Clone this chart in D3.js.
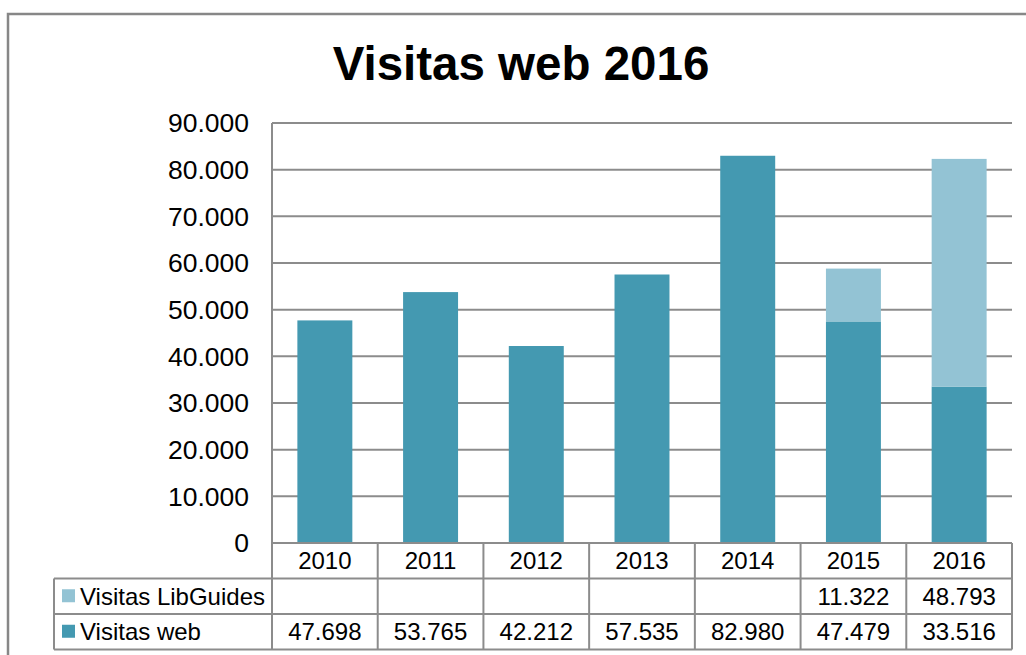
<!DOCTYPE html>
<html>
<head>
<meta charset="utf-8">
<script src="https://cdn.jsdelivr.net/npm/d3@7"></script>
<style>
  body { margin: 0; background: #fff; }
  text { font-family: 'Liberation Sans', Arial, sans-serif; fill: #000; }
</style>
</head>
<body>
<div id="chart"></div>
<script>
// datos del gráfico
var years = ['2010', '2011', '2012', '2013', '2014', '2015', '2016']
var visitasWeb = [47698, 53765, 42212, 57535, 82980, 47479, 33516]
var visitasLibGuides = [null, null, null, null, null, 11322, 48793]
var seriesNames = ['Visitas LibGuides', 'Visitas web']
var yTicks = [0, 10000, 20000, 30000, 40000, 50000, 60000, 70000, 80000, 90000]

var width = 1026
var height = 655
var colorWeb = '#4499b1'
var colorLib = '#93c3d4'
var gridColor = '#8c8c8c'

var plot = { left: 272, right: 1012, top: 123, bottom: 543 }
var rowH = 35.5
var tableLeft = 54

var svg = d3.select('#chart').append('svg')
  .attr('width', width)
  .attr('height', height)

// marco exterior
svg.append('rect')
  .attr('x', 8).attr('y', 14)
  .attr('width', 1040).attr('height', 660)
  .attr('fill', 'none')
  .attr('stroke', '#878787')
  .attr('stroke-width', 2.5)

// título
svg.append('text')
  .attr('x', 521).attr('y', 80)
  .attr('text-anchor', 'middle')
  .style('font-size', '47.5px')
  .style('font-weight', 'bold')
  .text('Visitas web 2016')

var x = d3.scaleBand()
  .domain(years)
  .range([plot.left, plot.right])
  .paddingInner(0.48)
  .paddingOuter(0.24)

var y = d3.scaleLinear()
  .domain([0, 90000])
  .range([plot.bottom, plot.top])

var fmt = function (v) {
  return v === 0 ? '0' : d3.format(',')(v).replace(/,/g, '.')
}

// líneas de la cuadrícula
svg.append('g').selectAll('line')
  .data(yTicks.slice(1))
  .enter().append('line')
  .attr('x1', plot.left).attr('x2', plot.right)
  .attr('y1', function (d) { return y(d) })
  .attr('y2', function (d) { return y(d) })
  .attr('stroke', gridColor)
  .attr('stroke-width', 2)

// etiquetas del eje y
svg.append('g').selectAll('text')
  .data(yTicks)
  .enter().append('text')
  .attr('x', 249)
  .attr('y', function (d) { return y(d) })
  .attr('dy', '0.35em')
  .attr('text-anchor', 'end')
  .style('font-size', '26.5px')
  .text(fmt)

// barras apiladas
var stackData = years.map(function (yr, i) {
  return { year: yr, web: visitasWeb[i], lib: visitasLibGuides[i] || 0 }
})
var stack = d3.stack().keys(['web', 'lib'])(stackData)
var colors = { web: colorWeb, lib: colorLib }

svg.append('g').selectAll('g')
  .data(stack)
  .enter().append('g')
  .attr('fill', function (s) { return colors[s.key] })
  .selectAll('rect')
  .data(function (s) { return s })
  .enter().append('rect')
  .attr('x', function (d) { return x(d.data.year) })
  .attr('width', x.bandwidth())
  .attr('y', function (d) { return y(d[1]) })
  .attr('height', function (d) { return y(d[0]) - y(d[1]) })

// tabla de datos
var table = svg.append('g')
var step = x.step()
var cellLeft = function (yr) { return x(yr) - (step - x.bandwidth()) / 2 }
var rows = [
  { name: seriesNames[0], values: visitasLibGuides, color: colorLib },
  { name: seriesNames[1], values: visitasWeb, color: colorWeb }
]
var tTop = plot.bottom
var tBottom = tTop + rowH * 3

// eje vertical y bordes
table.append('line')
  .attr('x1', plot.left).attr('x2', plot.left)
  .attr('y1', plot.top).attr('y2', tBottom)
  .attr('stroke', gridColor).attr('stroke-width', 2)
years.forEach(function (yr) {
  table.append('line')
    .attr('x1', cellLeft(yr) + step).attr('x2', cellLeft(yr) + step)
    .attr('y1', tTop).attr('y2', tBottom)
    .attr('stroke', gridColor).attr('stroke-width', 2)
})
table.append('line')
  .attr('x1', plot.left).attr('x2', plot.right)
  .attr('y1', tTop).attr('y2', tTop)
  .attr('stroke', gridColor).attr('stroke-width', 2)
;[1, 2, 3].forEach(function (r) {
  table.append('line')
    .attr('x1', tableLeft).attr('x2', plot.right)
    .attr('y1', tTop + rowH * r).attr('y2', tTop + rowH * r)
    .attr('stroke', gridColor).attr('stroke-width', 2)
})
table.append('line')
  .attr('x1', tableLeft).attr('x2', tableLeft)
  .attr('y1', tTop + rowH).attr('y2', tBottom)
  .attr('stroke', gridColor).attr('stroke-width', 2)

// años
table.selectAll('.yr')
  .data(years)
  .enter().append('text')
  .attr('class', 'yr')
  .attr('x', function (d) { return x(d) + x.bandwidth() / 2 })
  .attr('y', tTop + rowH / 2)
  .attr('dy', '0.36em')
  .attr('text-anchor', 'middle')
  .style('font-size', '24px')
  .text(function (d) { return d })

rows.forEach(function (row, r) {
  var cy = tTop + rowH * (r + 1) + rowH / 2
  table.append('rect')
    .attr('x', 62).attr('y', cy - 7)
    .attr('width', 13).attr('height', 13)
    .attr('fill', row.color)
  table.append('text')
    .attr('x', 80).attr('y', cy)
    .attr('dy', '0.36em')
    .style('font-size', '24px')
    .text(row.name)
  table.selectAll('.v' + r)
    .data(row.values)
    .enter().append('text')
    .attr('x', function (d, i) { return x(years[i]) + x.bandwidth() / 2 })
    .attr('y', cy)
    .attr('dy', '0.36em')
    .attr('text-anchor', 'middle')
    .style('font-size', '24px')
    .text(function (d) { return d == null ? '' : fmt(d) })
})
</script>
</body>
</html>
